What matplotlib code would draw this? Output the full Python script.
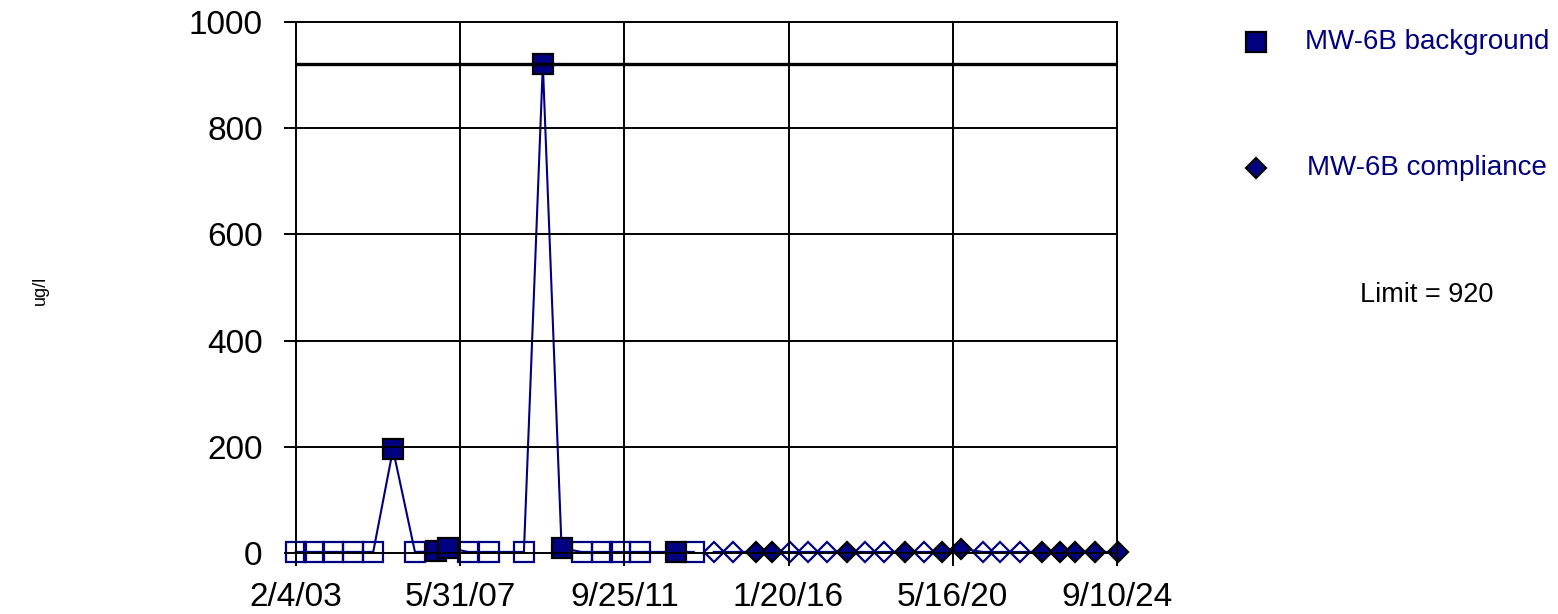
import matplotlib
matplotlib.use("Agg")
import matplotlib.pyplot as plt
import pandas as pd
from matplotlib.lines import Line2D

plt.rcParams['font.family'] = ['Liberation Sans', 'DejaVu Sans']

# ---- data ----
bg_dates = ['2003-02-01', '2003-07-24', '2004-01-28', '2004-08-07', '2005-02-15',
            '2005-08-24', '2006-03-23', '2006-10-08', '2007-01-31', '2007-08-17',
            '2008-03-05', '2009-02-02', '2009-08-03', '2010-01-30', '2010-08-10',
            '2011-02-18', '2011-08-19', '2012-02-24', '2013-02-07', '2013-07-23']
bg_values = [2, 2, 2, 2, 2, 195, 2, 3, 10, 2, 2, 2, 920, 9, 2, 2, 2, 2, 2, 2]
bg_detect = [0, 0, 0, 0, 0, 1, 0, 1, 1, 0, 0, 0, 1, 1, 0, 0, 0, 0, 1, 0]

cp_dates = ['2014-01-31', '2014-08-05', '2015-03-12', '2015-08-10', '2016-02-01',
            '2016-07-26', '2017-01-25', '2017-08-08', '2018-01-28', '2018-07-23',
            '2019-02-10', '2019-08-14', '2020-02-03', '2020-08-07', '2021-03-03',
            '2021-08-10', '2022-02-25', '2022-09-20', '2023-03-09', '2023-08-07',
            '2024-02-15', '2024-09-19']
cp_values = [2, 2, 2, 2, 2, 2, 2, 2, 2, 2, 2, 2, 2, 8, 2, 2, 2, 2, 2, 2, 2, 2]
cp_detect = [0, 0, 1, 1, 0, 0, 0, 1, 0, 0, 1, 0, 1, 1, 0, 0, 0, 1, 1, 1, 1, 1]

tick_dates = ['2003-02-04', '2007-05-31', '2011-09-25', '2016-01-20', '2020-05-16', '2024-09-10']
tick_labels = ['2/4/03', '5/31/07', '9/25/11', '1/20/16', '5/16/20', '9/10/24']
y_ticks = [0, 200, 400, 600, 800, 1000]
limit = 920

NAVY = '#000080'

fig = plt.figure(figsize=(15.58, 6.14), dpi=100)
ax = fig.add_axes([296/1558, 1-553/614, (1117-296)/1558, (553-22)/614])

def draw(dates, values, detect, marker, ms):
    d = pd.to_datetime(dates)
    ax.plot(d, values, color=NAVY, lw=1.5, zorder=2, clip_on=False)
    for x, v, det in zip(d, values, detect):
        if det:
            ax.plot([x], [v], marker=marker, ms=ms, mfc=NAVY, mec='black', mew=1.6,
                    ls='none', zorder=5, clip_on=False)
        else:
            ax.plot([x], [v], marker=marker, ms=ms, mfc='none', mec=NAVY, mew=1.6,
                    ls='none', zorder=3, clip_on=False)

draw(bg_dates, bg_values, bg_detect, 's', 14)
draw(cp_dates, cp_values, cp_detect, 'D', 10)

ax.axhline(limit, color='black', lw=2.4, zorder=8)

ax.set_xlim(pd.Timestamp(tick_dates[0]), pd.Timestamp(tick_dates[-1]))
ax.set_ylim(0, 1000)
ax.set_xticks(pd.to_datetime(tick_dates))
ax.set_xticklabels(tick_labels)
ax.set_yticks(y_ticks)
ax.set_yticklabels([str(v) for v in y_ticks])
ax.set_axisbelow(False)
ax.grid(True, color='black', lw=1.4)
ax.xaxis.set_zorder(6)
ax.yaxis.set_zorder(6)
for gl in ax.get_xgridlines() + ax.get_ygridlines():
    gl.set_clip_on(False)
for s in ax.spines.values():
    s.set_visible(False)
ax.tick_params(axis='both', direction='out', length=9, width=1.4, labelsize=24)
ax.tick_params(axis='y', pad=15)
ax.tick_params(axis='x', pad=12)

fig.text(40/1558, 1-290/614, 'ug/l', rotation=90, fontsize=13, ha='center', va='center')

# legend
fig.add_artist(Line2D([1256/1558], [1-42/614], marker='s', ms=14, mfc=NAVY, mec='black',
                      mew=1.6, ls='none', transform=fig.transFigure))
fig.text(1305/1558, 1-42/614, 'MW-6B background', color=NAVY, fontsize=20,
         ha='left', va='center')
fig.add_artist(Line2D([1256/1558], [1-168/614], marker='D', ms=10.5, mfc=NAVY, mec='black',
                      mew=1.6, ls='none', transform=fig.transFigure))
fig.text(1307/1558, 1-168/614, 'MW-6B compliance', color=NAVY, fontsize=20,
         ha='left', va='center')
fig.text(1360/1558, 1-295/614, f'Limit = {limit}', color='black', fontsize=19.5,
         ha='left', va='center')

fig.savefig('out.png', dpi=100)
